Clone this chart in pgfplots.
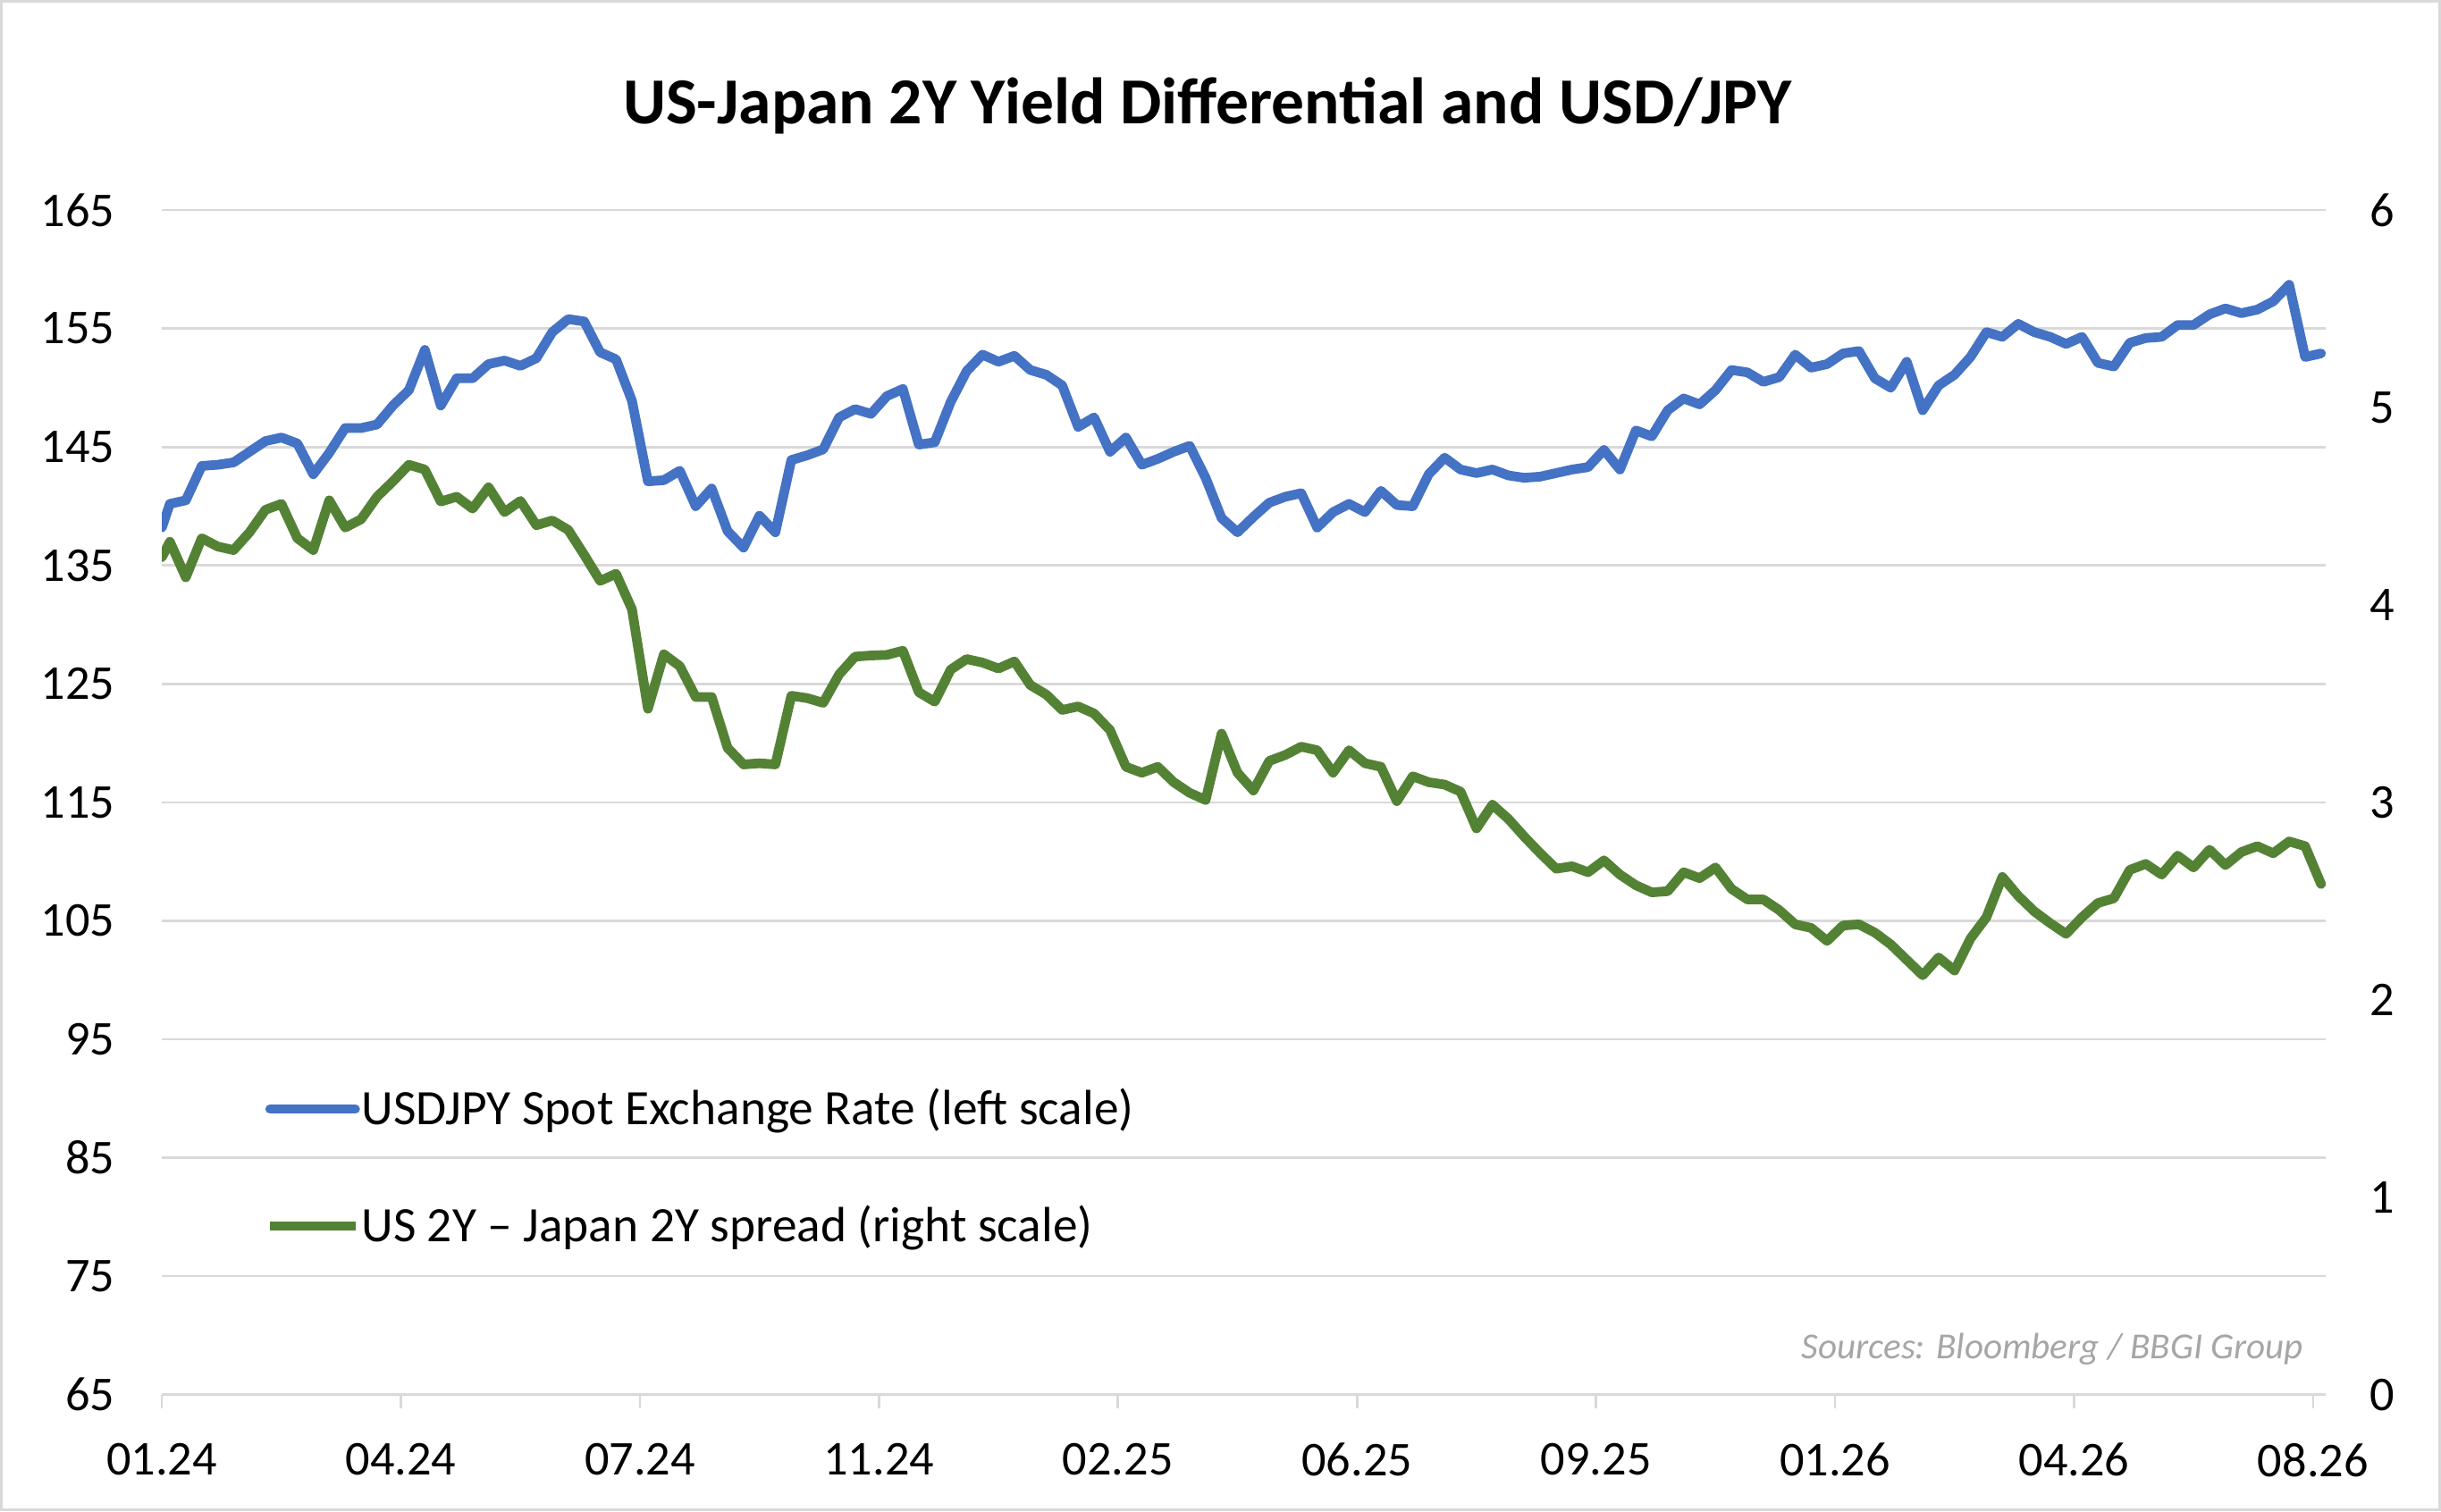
\documentclass[border=0pt]{standalone}
\usepackage{fontspec}
\setmainfont{Carlito}
\usepackage{pgfplots}
\usepackage{pgfplotstable}
\pgfplotsset{compat=1.18}
\definecolor{xlblue}{HTML}{4472C4}
\definecolor{xlgreen}{HTML}{548235}
\definecolor{gridgray}{HTML}{D9D9D9}
\definecolor{srcgray}{HTML}{A6A6A6}
\pgfplotstableread{
x usd spr
0 138.2 4.242
0.5 140.2 4.320
1.5 140.5 4.140
2.5 143.4 4.338
3.5 143.5 4.296
4.5 143.7 4.278
5.5 144.6 4.368
6.5 145.5 4.482
7.5 145.8 4.512
8.5 145.3 4.338
9.5 142.7 4.278
10.5 144.5 4.530
11.5 146.6 4.392
12.5 146.6 4.434
13.5 146.9 4.548
14.5 148.5 4.626
15.5 149.8 4.710
16.5 153.2 4.686
17.5 148.5 4.524
18.5 150.8 4.548
19.5 150.8 4.488
20.5 152.0 4.596
21.5 152.3 4.470
22.5 151.85 4.527
23.5 152.5 4.404
24.5 154.7 4.428
25.5 155.8 4.380
26.5 155.6 4.254
27.5 153.0 4.122
28.5 152.4 4.158
29.5 148.9 3.978
30.5 142.1 3.474
31.5 142.2 3.750
32.5 143.0 3.690
33.5 140.0 3.534
34.5 141.5 3.534
35.5 137.9 3.276
36.5 136.5 3.192
37.5 139.2 3.198
38.5 137.8 3.192
39.5 143.9 3.540
40.5 144.3 3.528
41.5 144.8 3.504
42.5 147.5 3.648
43.5 148.2 3.738
44.5 147.8 3.744
45.5 149.3 3.747
46.5 149.9 3.768
47.5 145.2 3.558
48.5 145.4 3.510
49.5 148.8 3.672
50.5 151.4 3.726
51.5 152.8 3.708
52.5 152.2 3.678
53.5 152.7 3.714
54.5 151.5 3.594
55.5 151.1 3.546
56.5 150.2 3.468
57.5 146.7 3.486
58.5 147.5 3.450
59.5 144.6 3.366
60.5 145.8 3.180
61.5 143.5 3.150
62.5 144.0 3.180
63.5 144.6 3.102
64.5 145.1 3.048
65.5 142.4 3.012
66.5 139.0 3.348
67.5 137.8 3.150
68.5 139.1 3.060
69.5 140.3 3.210
70.5 140.8 3.240
71.5 141.1 3.282
72.5 138.2 3.264
73.5 139.5 3.150
74.5 140.2 3.264
75.5 139.5 3.198
76.5 141.3 3.180
77.5 140.1 3.006
78.5 140.0 3.132
79.5 142.7 3.102
80.5 144.1 3.090
81.5 143.1 3.054
82.5 142.8 2.868
83.5 143.1 2.988
84.5 142.6 2.916
85.5 142.4 2.826
86.5 142.5 2.742
87.5 142.8 2.664
88.5 143.1 2.676
89.5 143.3 2.646
90.5 144.75 2.706
91.5 143.1 2.634
92.5 146.4 2.580
93.5 145.9 2.544
94.5 148.1 2.550
95.5 149.1 2.646
96.5 148.6 2.616
97.5 149.8 2.670
98.5 151.5 2.562
99.5 151.3 2.508
100.5 150.5 2.508
101.5 150.9 2.454
102.5 152.8 2.382
103.5 151.7 2.364
104.5 152.0 2.298
105.5 152.9 2.376
106.5 153.1 2.382
107.5 150.8 2.340
108.5 150.0 2.280
109.5 152.2 2.202
110.5 148.1 2.124
111.5 150.2 2.214
112.5 151.1 2.148
113.5 152.6 2.310
114.5 154.7 2.418
115.5 154.3 2.622
116.5 155.4 2.526
117.5 154.7 2.448
118.5 154.3 2.388
119.5 153.7 2.334
120.5 154.3 2.418
121.5 152.1 2.490
122.5 151.8 2.514
123.5 153.8 2.658
124.5 154.2 2.688
125.5 154.3 2.634
126.5 155.3 2.730
127.5 155.3 2.670
128.5 156.2 2.760
129.5 156.7 2.682
130.5 156.3 2.748
131.5 156.6 2.778
132.5 157.3 2.742
133.5 158.7 2.802
134.5 152.6 2.778
135.5 152.9 2.586
}\datatable

\begin{document}
\begin{tikzpicture}
\path[draw=gridgray, line width=1pt] (-51.5pt,-37pt) rectangle (731.5pt,447.5pt);
\node[font=\fontsize{21.1}{25}\selectfont\bfseries, inner sep=0pt] at (335.75pt,414pt) {US-Japan 2Y Yield Differential and USD/JPY};
\begin{axis}[
  width=695pt, height=380.5pt, scale only axis,
  xmin=0, xmax=135.8, ymin=65, ymax=165,
  xtick={0,15,...,135},
  xticklabels={01.24,04.24,07.24,11.24,02.25,06.25,09.25,01.26,04.26,08.26},
  xtick pos=bottom,
  ytick={65,75,...,165},
  ymajorgrids, grid style={draw=gridgray, line width=0.75pt},
  axis line style={draw=none},
  tick align=outside, major tick length=4.5pt,
  xtick style={draw=gridgray, line width=0.75pt},
  ytick style={draw=none},
  /pgf/number format/assume math mode=true,
  ticklabel style={font=\fontsize{15.6}{18}\selectfont},
  yticklabel style={inner sep=0pt, xshift=-10.5pt},
  xticklabel style={inner sep=0pt, anchor=north, yshift=-11pt},
  legend style={at={(rel axis cs:0.0475,0.1915)}, anchor=west, draw=none, fill=none,
    inner sep=0pt, row sep=23.5pt, font=\fontsize{15.9}{18}\selectfont,
    nodes={inner sep=0.5pt}},
  legend cell align=left,
  legend image code/.code={\draw[#1, line width=2.9pt] (0pt,0pt) -- (27.5pt,0pt);},
]
\addplot[xlblue, line width=3.1pt, line join=round, line cap=round] table[x=x, y=usd] {\datatable};
\addlegendentry{USDJPY Spot Exchange Rate (left scale)}
\addlegendimage{xlgreen, line width=3.1pt}
\addlegendentry{US 2Y – Japan 2Y spread (right scale)}
\node[anchor=east, inner sep=0pt, font=\fontsize{11.8}{14}\selectfont\itshape, text=srcgray]
  at (rel axis cs:1,0) [xshift=-7pt, yshift=14.5pt] {Sources: Bloomberg / BBGI Group};
\end{axis}
\begin{axis}[
  width=695pt, height=380.5pt, scale only axis,
  xmin=0, xmax=135.8, ymin=0, ymax=6,
  hide x axis,
  axis line style={draw=none},
  yticklabel pos=right,
  ytick={0,1,...,6},
  ytick style={draw=none},
  /pgf/number format/assume math mode=true,
  ticklabel style={font=\fontsize{15.6}{18}\selectfont},
  yticklabel style={inner sep=0pt, anchor=west, xshift=14pt},
]
\addplot[xlgreen, line width=3.1pt, line join=round, line cap=round] table[x=x, y=spr] {\datatable};
\end{axis}
\end{tikzpicture}
\end{document}
